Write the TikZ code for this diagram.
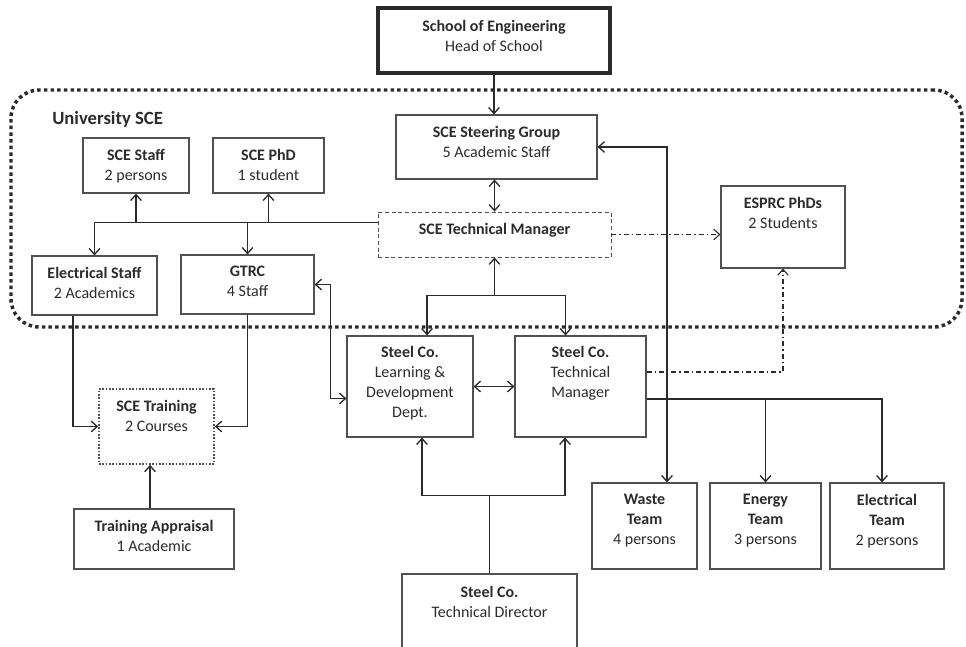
\documentclass[tikz,border=0pt]{standalone}
\usepackage{fontspec}
\setmainfont{Carlito}
\usetikzlibrary{arrows.meta,calc,fit}
\definecolor{ink}{HTML}{2B2B2B}
\definecolor{edge}{HTML}{505050}
\begin{document}
\begin{tikzpicture}[x=0.75pt,y=-0.75pt,color=ink,
    >={Straight Barb[length=4.5pt,width=8pt]},
    box/.style={draw=edge,line width=0.8pt,inner sep=0pt},
    txt/.style={anchor=north,yshift=-8.6pt,inner sep=0pt,align=center,
      font=\fontsize{12}{15}\selectfont},
    link/.style={line width=1pt},
    dashdot/.style={line width=0.8pt,dash pattern=on 3.75pt off 2.25pt on 1.1pt off 2.25pt}]

    \useasboundingbox (0,0) rectangle (966,646);

    % University SCE region
    \node[draw=ink,line width=2.6pt,dash pattern=on 2.6pt off 2.4pt,rounded corners=21pt,
      inner sep=0pt,fit={(11,90) (962,327)}] (sce) {};
    \node[anchor=west,inner sep=0pt,font=\fontsize{14}{17}\selectfont\bfseries] (uni) at (52,119.5) {University SCE};

    % boxes
    \node[box,line width=2.4pt,draw=ink,fit={(378,8) (610,73)}] (school) {};
    \node[box,fit={(83,138) (189,193)}] (staff) {};
    \node[box,fit={(213,138) (324,193)}] (phd) {};
    \node[box,fit={(396,115) (597,179)}] (steer) {};
    \node[box,line width=0.6pt,dash pattern=on 3pt off 2pt,fit={(378,212) (611,257)}] (tm) {};
    \node[box,fit={(721,186) (845,268)}] (esprc) {};
    \node[box,fit={(32,256) (157,315)}] (estaff) {};
    \node[box,fit={(181,255) (314,314)}] (gtrc) {};
    \node[box,fit={(347,336) (473,437)}] (ld) {};
    \node[box,fit={(515,336) (646,437)}] (stm) {};
    \node[box,line width=1.2pt,dash pattern=on 1.2pt off 1.3pt,fit={(99,389) (214,464)}] (train) {};
    \node[box,fit={(74,509) (234,569)}] (appr) {};
    \node[box,fit={(402,574) (577,680)}] (dir) {};
    \node[box,fit={(592,483) (697,569)}] (waste) {};
    \node[box,fit={(710,483) (821,569)}] (energy) {};
    \node[box,fit={(830,483) (944,569)}] (eteam) {};

    % texts
    \node[txt,yshift=-1.5pt] (school-t) at (school.north) {\textbf{School of Engineering}\\Head of School};
    \node[txt] (staff-t) at (staff.north) {\textbf{SCE Staff}\\2 persons};
    \node[txt] (phd-t) at (phd.north) {\textbf{SCE PhD}\\1 student};
    \node[txt] (steer-t) at (steer.north) {\textbf{SCE Steering Group}\\5 Academic Staff};
    \node[txt] (tm-t) at (tm.north) {\textbf{SCE Technical Manager}};
    \node[txt] (esprc-t) at (esprc.north) {\textbf{ESPRC PhDs}\\2 Students};
    \node[txt] (estaff-t) at (estaff.north) {\textbf{Electrical Staff}\\2 Academics};
    \node[txt] (gtrc-t) at (gtrc.north) {\textbf{GTRC}\\4 Staff};
    \node[txt,yshift=0.7pt] (ld-t) at (ld.north) {\textbf{Steel Co.}\\Learning \&\\Development\\Dept.};
    \node[txt,yshift=0.7pt] (stm-t) at (stm.north) {\textbf{Steel Co.}\\Technical\\Manager};
    \node[txt] (train-t) at (train.north) {\textbf{SCE Training}\\2 Courses};
    \node[txt] (appr-t) at (appr.north) {\textbf{Training Appraisal}\\1 Academic};
    \node[txt,yshift=-0.7pt] (dir-t) at (dir.north) {\textbf{Steel Co.}\\Technical Director};
    \node[txt] (waste-t) at (waste.north) {\textbf{Waste}\\\textbf{Team}\\4 persons};
    \node[txt] (energy-t) at (energy.north) {\textbf{Energy}\\\textbf{Team}\\3 persons};
    \node[txt] (eteam-t) at (eteam.north) {\textbf{Electrical}\\\textbf{Team}\\2 persons};

    % hubs
    \coordinate (tmL) at ($(tm.north west)!.24!(tm.south west)$);
    \coordinate (sj) at ($(tm.south)+(0,38)$);
    \coordinate (dj) at ($(dir.north)+(0,-78)$);
    \coordinate (th) at ($(stm.east)+(0,12.5)$);
    \coordinate (te) at ($(th -| eteam.north)+(-5,0)$);

    % connectors
    \draw[link,->] (school.south) -- (school.south |- steer.north);
    \draw[link,<->] (tm.north |- steer.south) -- (tm.north);
    \draw[link,->] (tmL) -| (estaff.north);
    \draw[link,->] (tmL -| staff.south) -- (staff.south);
    \draw[link,->] (tmL -| phd.south) -- (phd.south);
    \draw[link,->] (tmL -| gtrc.north) -- (gtrc.north);
    \draw[dashdot,->] (tm.east) -- (tm.east -| esprc.west);

    \draw[link,->] (sj) -- (tm.south);
    \draw[link,<->] ($(ld.north)+(17,0)$) |- (sj) -| ($(stm.north)+(-15,0)$);
    \draw[link,<->] (gtrc.east) -- ++(16,0) |- ($(ld.west)+(0,12)$);
    \draw[link,<->] (ld.east) -- (ld.east -| stm.west);
    \draw[dashdot,->] ($(stm.east)+(0,-14.5)$) -| (esprc.south);
    \draw[link,<->] (steer.east) -| ($(waste.north)+(22.5,0)$);

    \draw[link,->] (th) -| (te |- eteam.north);
    \draw[link,->] (th -| energy.north) -- (energy.north);

    \draw[link,->] ($(estaff.south)+(-21.5,0)$) |- (train.west);
    \draw[link,->] (gtrc.south) |- (train.east);
    \draw[link,->] ($(appr.north)+(-4,0)$) -- ($(appr.north |- train.south)+(-4,0)$);

    \draw[link] (dir.north) -- (dj);
    \draw[link,<->] ($(ld.south)+(12,0)$) |- (dj) -| ($(stm.south)+(-15.5,0)$);
\end{tikzpicture}
\end{document}
